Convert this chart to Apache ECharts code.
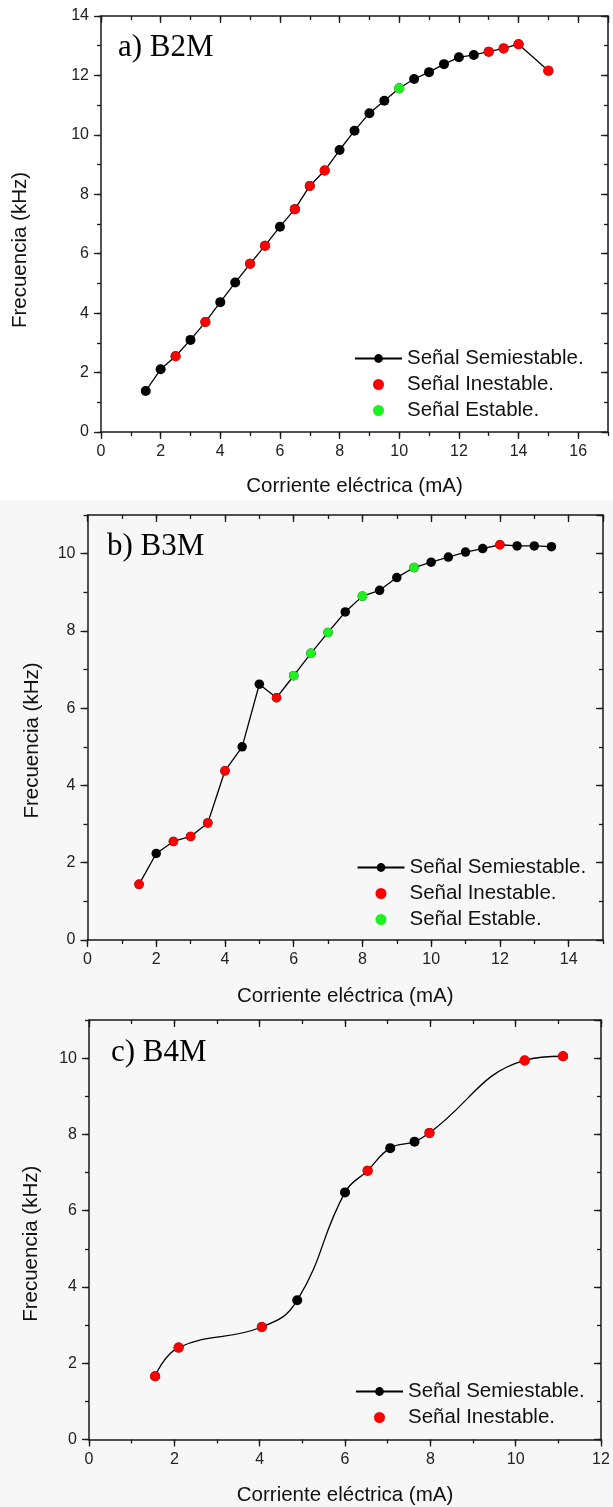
<!DOCTYPE html>
<html>
<head>
<meta charset="utf-8">
<script src="https://cdn.jsdelivr.net/npm/echarts@6/dist/echarts.min.js"></script>
<style>
  html, body { margin: 0; padding: 0; background: #ffffff; }
  #chart { width: 613px; height: 1507px; }
</style>
</head>
<body>
<div id="chart"></div>
<script>
// Panel a) B2M: current (mA), frequency (kHz), signal state per point
// S = semiestable, I = inestable, E = estable
const currentB2M = [1.5, 2, 2.5, 3, 3.5, 4, 4.5, 5, 5.5, 6, 6.5, 7, 7.5, 8, 8.5, 9, 9.5, 10, 10.5, 11, 11.5, 12, 12.5, 13, 13.5, 14, 15];
const freqB2M = [1.38, 2.11, 2.55, 3.10, 3.70, 4.37, 5.03, 5.66, 6.27, 6.91, 7.50, 8.28, 8.80, 9.49, 10.14, 10.73, 11.15, 11.57, 11.88, 12.11, 12.38, 12.61, 12.69, 12.80, 12.91, 13.05, 12.16];
const stateB2M = ['S', 'S', 'I', 'S', 'I', 'S', 'S', 'I', 'I', 'S', 'I', 'I', 'I', 'S', 'S', 'S', 'S', 'E', 'S', 'S', 'S', 'S', 'S', 'I', 'I', 'I', 'I'];

// Panel b) B3M
const currentB3M = [1.5, 2, 2.5, 3, 3.5, 4, 4.5, 5, 5.5, 6, 6.5, 7, 7.5, 8, 8.5, 9, 9.5, 10, 10.5, 11, 11.5, 12, 12.5, 13, 13.5];
const freqB3M = [1.44, 2.24, 2.55, 2.68, 3.03, 4.38, 5.00, 6.62, 6.27, 6.84, 7.42, 7.96, 8.49, 8.90, 9.05, 9.38, 9.64, 9.78, 9.91, 10.04, 10.13, 10.23, 10.20, 10.20, 10.18];
const stateB3M = ['I', 'S', 'I', 'I', 'I', 'I', 'S', 'S', 'I', 'E', 'E', 'E', 'S', 'E', 'S', 'S', 'E', 'S', 'S', 'S', 'S', 'I', 'S', 'S', 'S'];

// Panel c) B4M
const currentB4M = [1.55, 2.1, 4.05, 4.88, 6.0, 6.53, 7.06, 7.63, 7.98, 10.21, 11.11];
const freqB4M = [1.66, 2.41, 2.95, 3.65, 6.48, 7.05, 7.64, 7.81, 8.04, 9.94, 10.05];
const stateB4M = ['I', 'I', 'I', 'S', 'S', 'I', 'S', 'S', 'I', 'I', 'I'];

// Text
const panelTitles = ['a) B2M', 'b) B3M', 'c) B4M'];
const xAxisTitle = 'Corriente eléctrica (mA)';
const yAxisTitle = 'Frecuencia (kHz)';
const nameSemi = 'Señal Semiestable.';
const nameInest = 'Señal Inestable.';
const nameEst = 'Señal Estable.';

const SANS = '"Liberation Sans", Arial, sans-serif';
const SERIF = '"Liberation Serif", "Times New Roman", serif';
const AXIS_COLOR = '#1a1a1a';
const RED = '#ff0000';
const GREEN = '#1ff01f';

const panels = [
  {
    x: currentB2M, y: freqB2M, s: stateB2M, smooth: false,
    grid: { left: 101, top: 16, width: 507, height: 416 },
    xMax: 17, yMax: 14, symbolSize: 10,
    xNameGap: 44, yNameGap: 70, yNameShift: 26,
    title: { left: 118, top: 32 },
    legend: { left: 349, top: 343 },
    legendNames: [nameSemi, nameInest, nameEst]
  },
  {
    x: currentB3M, y: freqB3M, s: stateB3M, smooth: false,
    grid: { left: 87.5, top: 515, width: 515.5, height: 425 },
    xMax: 15, yMax: 11, symbolSize: 9.5,
    xNameGap: 46, yNameGap: 45, yNameShift: 13,
    title: { left: 107, top: 531 },
    legend: { left: 351.5, top: 852 },
    legendNames: [nameSemi, nameInest, nameEst]
  },
  {
    x: currentB4M, y: freqB4M, s: stateB4M, smooth: true,
    grid: { left: 89, top: 1020, width: 512, height: 419.5 },
    xMax: 12, yMax: 11, symbolSize: 10,
    xNameGap: 45, yNameGap: 47, yNameShift: 14,
    title: { left: 111, top: 1037 },
    legend: { left: 350, top: 1376 },
    legendNames: [nameSemi, nameInest]
  }
];

const grids = [], xAxes = [], yAxes = [], series = [], legends = [], titles = [];

function pairs(xs, ys, filterFn) {
  const out = [];
  for (let i = 0; i < xs.length; i++) {
    if (!filterFn || filterFn(i)) out.push([xs[i], ys[i]]);
  }
  return out;
}

// One side of a frame: a major-tick axis (with line) and a minor-tick axis on top of it
function sideAxes(gi, max, pos, isMain, extra) {
  const inside = !isMain;
  const major = Object.assign({
    type: 'value', gridIndex: gi, position: pos, min: 0, max: max, interval: 2,
    splitLine: { show: false },
    axisLine: { show: true, onZero: false, lineStyle: { color: AXIS_COLOR, width: 1.5 } },
    axisTick: { show: true, inside: inside, length: 7, lineStyle: { color: AXIS_COLOR, width: 1.3 } },
    axisLabel: isMain ? {
      show: true, fontFamily: SANS, fontSize: 16, color: '#222', margin: 12,
      showMaxLabel: max % 2 === 0
    } : { show: false }
  }, extra || {});
  const minor = {
    type: 'value', gridIndex: gi, position: pos, min: 0, max: max, interval: 1,
    splitLine: { show: false },
    axisLine: { show: false, onZero: false },
    axisTick: { show: true, inside: inside, length: 4, lineStyle: { color: AXIS_COLOR, width: 1.3 } },
    axisLabel: { show: false }
  };
  return [major, minor];
}

panels.forEach((p, gi) => {
  grids.push(Object.assign({ containLabel: false }, p.grid));

  const xMain = sideAxes(gi, p.xMax, 'bottom', true, {
    name: xAxisTitle, nameLocation: 'middle', nameGap: p.xNameGap,
    nameTextStyle: { fontFamily: SANS, fontSize: 20.5, color: '#111' }
  });
  const xTop = sideAxes(gi, p.xMax, 'top', false);
  const yMain = sideAxes(gi, p.yMax, 'left', true, {
    name: yAxisTitle, nameLocation: 'middle', nameGap: p.yNameGap,
    nameTextStyle: { fontFamily: SANS, fontSize: 20.5, color: '#111', padding: [0, p.yNameShift * 2, 0, 0] }
  });
  const yRight = sideAxes(gi, p.yMax, 'right', false);

  const xBase = xAxes.length, yBase = yAxes.length;
  xAxes.push(...xMain, ...xTop);
  yAxes.push(...yMain, ...yRight);

  series.push({
    name: nameSemi, type: 'line', xAxisIndex: xBase, yAxisIndex: yBase,
    data: pairs(p.x, p.y), smooth: p.smooth ? 0.45 : false,
    symbol: 'circle', symbolSize: p.symbolSize, showSymbol: true,
    lineStyle: { color: '#000', width: 1.3 },
    itemStyle: { color: '#000', opacity: 1 },
    z: 2, silent: true
  });
  series.push({
    name: nameInest, type: 'scatter', xAxisIndex: xBase, yAxisIndex: yBase,
    data: pairs(p.x, p.y, i => p.s[i] === 'I'),
    symbol: 'circle', symbolSize: p.symbolSize,
    itemStyle: { color: RED, opacity: 1 }, z: 3, silent: true
  });
  if (p.s.indexOf('E') >= 0) {
    series.push({
      name: nameEst, type: 'scatter', xAxisIndex: xBase, yAxisIndex: yBase,
      data: pairs(p.x, p.y, i => p.s[i] === 'E'),
      symbol: 'circle', symbolSize: p.symbolSize,
      itemStyle: { color: GREEN, opacity: 1 }, z: 3, silent: true
    });
  }

  legends.push({
    left: p.legend.left, top: p.legend.top, orient: 'vertical',
    itemWidth: 47, itemHeight: 11, itemGap: 5, selectedMode: false,
    data: p.legendNames,
    textStyle: { fontFamily: SANS, fontSize: 20.5, color: '#111', lineHeight: 20 }
  });

  titles.push({
    text: panelTitles[gi], left: p.title.left, top: p.title.top, padding: 0,
    textStyle: { fontFamily: SERIF, fontSize: 31, fontWeight: 'normal', color: '#000' }
  });
});

const chart = echarts.init(document.getElementById('chart'), null, { renderer: 'canvas' });
chart.setOption({
  animation: false,
  backgroundColor: '#ffffff',
  graphic: [
    { type: 'rect', shape: { x: 0, y: 500, width: 613, height: 1007 }, style: { fill: '#f7f7f7' }, z: -10, silent: true }
  ],
  title: titles,
  grid: grids,
  xAxis: xAxes,
  yAxis: yAxes,
  legend: legends,
  tooltip: { show: false },
  series: series
});
</script>
</body>
</html>
